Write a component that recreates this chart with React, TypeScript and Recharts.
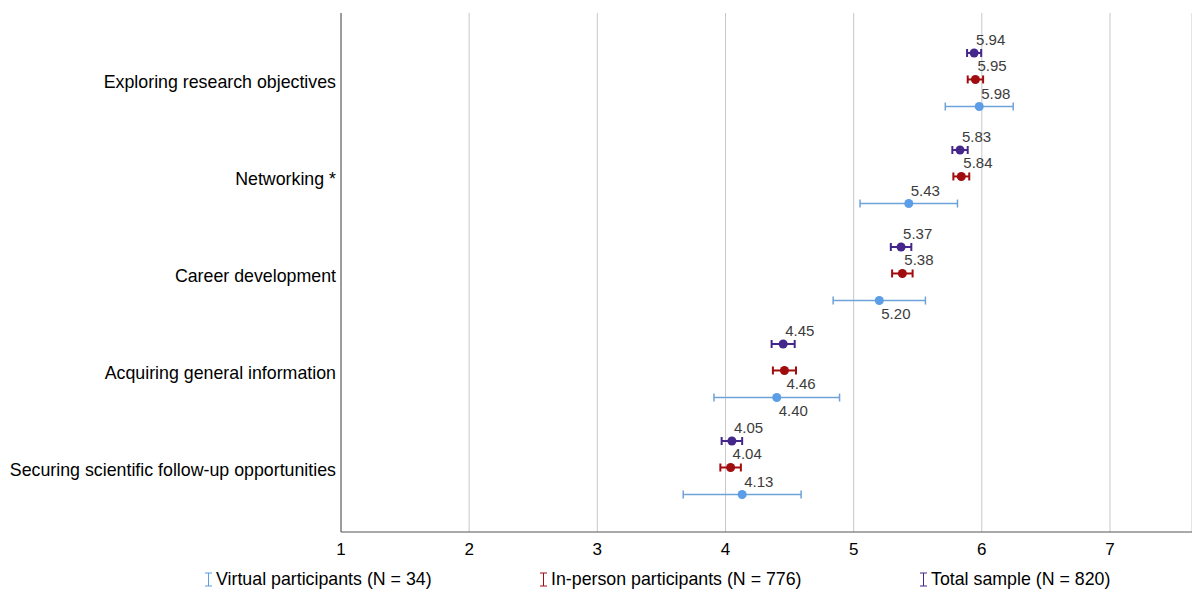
import { ScatterChart, Scatter, XAxis, YAxis, CartesianGrid, ErrorBar } from 'recharts';

// categories, top to bottom
const categories = [
  'Exploring research objectives',
  'Networking *',
  'Career development',
  'Acquiring general information',
  'Securing scientific follow-up opportunities',
];

// means and error half-widths
const totalMean = [5.94, 5.83, 5.37, 4.45, 4.05];
const totalErr = [0.055, 0.06, 0.08, 0.09, 0.08];
const inPersonMean = [5.95, 5.84, 5.38, 4.46, 4.04];
const inPersonErr = [0.06, 0.062, 0.08, 0.09, 0.08];
const virtualMean = [5.98, 5.43, 5.2, 4.4, 4.13];
const virtualErr = [0.265, 0.38, 0.36, 0.49, 0.46];

const xTicks = [1, 2, 3, 4, 5, 6, 7];

const FONT = '"Liberation Sans", Arial, sans-serif';

// where the value label goes under the dot instead of above it
const labelsBelow: Record<string, string[]> = {
  total: [],
  inPerson: ['Acquiring general information'],
  virtual: ['Career development', 'Acquiring general information'],
};

const series = [
  { key: 'total', name: 'Total sample (N = 820)', mean: totalMean, err: totalErr, color: '#45268a', barColor: '#45268a', barWidth: 2, offset: -0.299, legendX: 919 },
  { key: 'inPerson', name: 'In-person participants (N = 776)', mean: inPersonMean, err: inPersonErr, color: '#a10d0f', barColor: '#a10d0f', barWidth: 2, offset: -0.026, legendX: 539 },
  { key: 'virtual', name: 'Virtual participants (N = 34)', mean: virtualMean, err: virtualErr, color: '#5b9de6', barColor: '#6fa2d8', barWidth: 1.5, offset: 0.253, legendX: 204 },
];

const buildData = (mean: number[], err: number[], offset: number) =>
  categories.map((cat, i) => ({ cat, x: mean[i], y: i + offset, err: err[i] }));

const makeShape = (color: string, key: string) => (props: any) => {
  const { cx, cy, payload } = props;
  const below = labelsBelow[key].includes(payload.cat);
  return (
    <g>
      <circle cx={cx} cy={cy} r={4.5} fill={color} />
      <text
        x={cx + 2}
        y={cy + (below ? 13 : -13.5)}
        dominantBaseline="central"
        fontSize={15}
        fontFamily={FONT}
        fill="#3c3c3c"
      >
        {payload.x.toFixed(2)}
      </text>
    </g>
  );
};

const LegendIcon = ({ color }: { color: string }) => (
  <svg width={9} height={15} style={{ display: 'block' }}>
    <line x1={1} y1={1} x2={8} y2={1} stroke={color} strokeWidth={1} />
    <line x1={4.5} y1={1} x2={4.5} y2={14} stroke={color} strokeWidth={1} />
    <line x1={1} y1={14} x2={8} y2={14} stroke={color} strokeWidth={1} />
  </svg>
);

export default function App() {
  return (
    <div style={{ position: 'absolute', left: 0, top: 0, width: 1192, height: 592, background: '#fff', fontFamily: FONT }}>
      <ScatterChart width={1192} height={592} margin={{ top: 13, right: 0, left: 0, bottom: 30 }}>
        <CartesianGrid horizontal={false} stroke="#c8c8c8" />
        <XAxis
          type="number"
          dataKey="x"
          domain={[1, 7.64]}
          ticks={xTicks}
          allowDataOverflow
          height={30}
          tickLine={false}
          tickSize={8}
          tickMargin={3}
          axisLine={{ stroke: '#555' }}
          tick={{ fill: '#000', fontSize: 17, fontFamily: FONT }}
        />
        <YAxis
          type="number"
          dataKey="y"
          domain={[-0.711, 4.639]}
          reversed
          allowDataOverflow
          ticks={categories.map((_, i) => i)}
          tickFormatter={(v: number) => categories[v] ?? ''}
          width={341}
          tickLine={false}
          tickSize={3}
          tickMargin={2}
          axisLine={{ stroke: '#555' }}
          tick={{ fill: '#000', fontSize: 17.8, fontFamily: FONT }}
        />
        {series.map((s) => (
          <Scatter
            key={s.key}
            name={s.name}
            data={buildData(s.mean, s.err, s.offset)}
            fill={s.color}
            shape={makeShape(s.color, s.key)}
            isAnimationActive={false}
          >
            <ErrorBar dataKey="err" direction="x" width={4} stroke={s.barColor} strokeWidth={s.barWidth} />
          </Scatter>
        ))}
      </ScatterChart>
      {series.map((s) => (
        <div
          key={s.key}
          style={{ position: 'absolute', left: s.legendX, top: 569, display: 'flex', alignItems: 'center', gap: 3, fontSize: 17.8, color: '#000', whiteSpace: 'nowrap' }}
        >
          <LegendIcon color={s.color} />
          <span>{s.name}</span>
        </div>
      ))}
    </div>
  );
}
